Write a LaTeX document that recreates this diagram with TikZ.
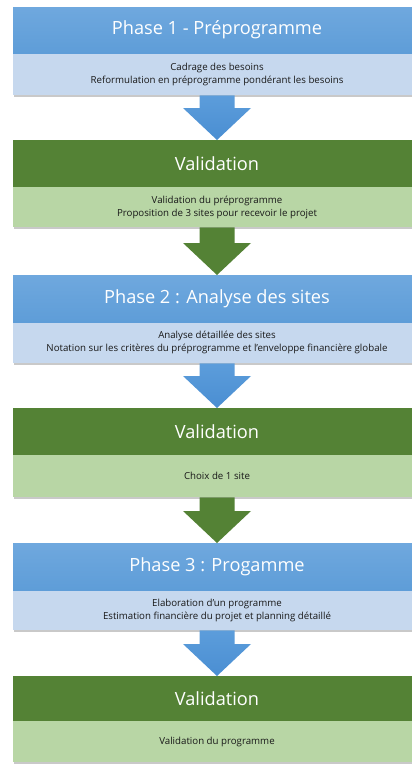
\documentclass[tikz,border=0pt]{standalone}
\usepackage{fontspec}
\setmainfont{Open Sans}
\usetikzlibrary{calc,shadows}
\definecolor{hblue}{HTML}{5E9DD8}
\definecolor{hbluetop}{HTML}{6FA8DE}
\definecolor{bblue}{HTML}{C6D8EE}
\definecolor{hgreen}{HTML}{548235}
\definecolor{bgreen}{HTML}{B8D6A5}
\definecolor{ablue}{HTML}{4A8ED2}
\definecolor{abluetop}{HTML}{5C9DDB}
\definecolor{agreen}{HTML}{548235}
\tikzset{
  hdr/.style={anchor=north, minimum width=408pt, minimum height=46pt, inner sep=0pt,
    text=white, font=\fontsize{18.2}{21}\selectfont},
  hdrblue/.style={hdr, top color=hbluetop, bottom color=hblue},
  hdrgreen/.style={hdr, fill=hgreen},
  bodybox/.style={anchor=north, minimum width=408pt, inner sep=0pt, align=center,
    text=black!90, font=\fontsize{9.7}{13}\selectfont,
    drop shadow={shadow xshift=1pt, shadow yshift=-2pt, opacity=0.35, fill=black!60}},
  bodyblue/.style={bodybox, fill=bblue},
  bodygreen/.style={bodybox, fill=bgreen},
  arrowblue/.style={top color=abluetop, bottom color=ablue, draw=none},
  arrowgreen/.style={fill=agreen, draw=none},
}
\newcommand{\blockarrow}[3]{%
  \path[#1] ([xshift=-17.5pt]#2.south) -- ([xshift=17.5pt]#2.south)
    -- ($(#3.north)+(17.5,-32)$) -- ($(#3.north)+(34,-32)$)
    -- (#3.north) -- ($(#3.north)+(-34,-32)$) -- ($(#3.north)+(-17.5,-32)$) -- cycle;}
\begin{document}
\begin{tikzpicture}[x=1pt,y=-1pt]
\useasboundingbox[fill=white] (0,0) rectangle (412,764);
% Phase 1
\node[bodyblue, minimum height=42pt] (b1) at (217,53) {Cadrage des besoins\\Reformulation en préprogramme pondérant les besoins};
\node[hdrblue] (h1) at (217,7) {Phase 1 - Préprogramme};
% Validation 1
\node[bodygreen, minimum height=40pt] (b2) at (217,187) {Validation du préprogramme\\Proposition de 3 sites pour recevoir le projet};
\node[hdrgreen, minimum height=47pt] (h2) at (217,140) {Validation};
% Phase 2
\node[bodyblue, minimum height=41pt] (b3) at (217,322) {Analyse détaillée des sites\\Notation sur les critères du préprogramme et l'enveloppe financière globale};
\node[hdrblue, minimum height=47pt] (h3) at (217,275) {Phase 2 : Analyse des sites};
% Validation 2
\node[bodygreen, minimum height=42pt] (b4) at (217,455) {Choix de 1 site};
\node[hdrgreen, minimum height=47pt] (h4) at (217,408) {Validation};
% Phase 3
\node[bodyblue, minimum height=40pt] (b5) at (217,590) {Elaboration d'un programme\\Estimation financière du projet et planning détaillé};
\node[hdrblue, minimum height=47pt] (h5) at (217,543) {Phase 3 : Progamme};
% Validation 3
\node[bodygreen, minimum height=41pt] (b6) at (217,721) {Validation du programme};
\node[hdrgreen, minimum height=45pt] (h6) at (217,676) {Validation};
% arrows
\blockarrow{arrowblue}{b1}{h2}
\blockarrow{arrowgreen}{b2}{h3}
\blockarrow{arrowblue}{b3}{h4}
\blockarrow{arrowgreen}{b4}{h5}
\blockarrow{arrowblue}{b5}{h6}
\end{tikzpicture}
\end{document}
